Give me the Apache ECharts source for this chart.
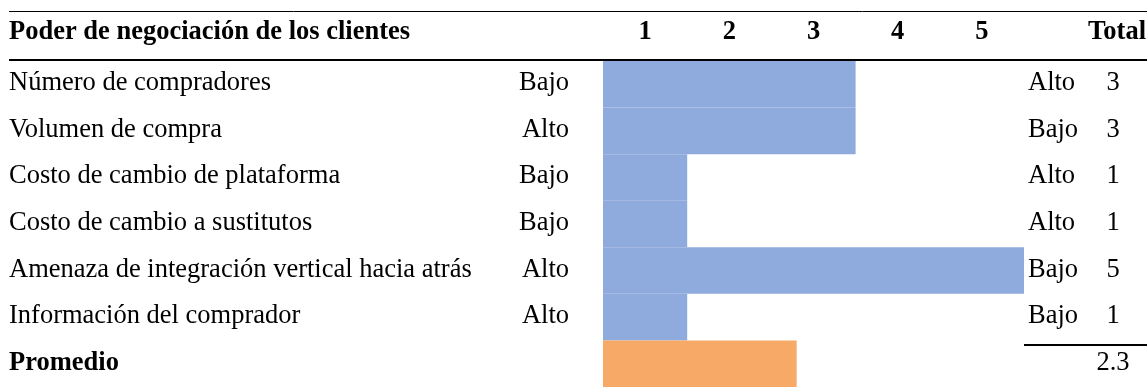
<!DOCTYPE html>
<html>
<head>
<meta charset="utf-8">
<title>Poder de negociación de los clientes</title>
<script src="https://cdn.jsdelivr.net/npm/echarts@6/dist/echarts.min.js"></script>
<style>
  html, body { margin: 0; padding: 0; background: #fff; }
  #chart { width: 1147px; height: 387px; }
</style>
</head>
<body>
<div id="chart"></div>
<script>
// Factors rated on a 1–5 scale
const factors = [
  'Número de compradores',
  'Volumen de compra',
  'Costo de cambio de plataforma',
  'Costo de cambio a sustitutos',
  'Amenaza de integración vertical hacia atrás',
  'Información del comprador'
];
const lowEnd = ['Bajo', 'Alto', 'Bajo', 'Bajo', 'Alto', 'Alto'];
const highEnd = ['Alto', 'Bajo', 'Alto', 'Alto', 'Bajo', 'Bajo'];
const scores = [3, 3, 1, 1, 5, 1];
const averageLabel = 'Promedio';
const average = 2.3;
const scaleTicks = ['1', '2', '3', '4', '5'];
const title = 'Poder de negociación de los clientes';
const totalHeader = 'Total';

const FONT = '"Liberation Serif", "Times New Roman", serif';
const FS = 26.5;
const BLUE = '#8FAADC';
const ORANGE = '#F7A967';

const rows = factors.concat([averageLabel]);
const values = scores.concat([average]);
const totals = scores.map(String).concat([String(average)]);

const GRID_LEFT = 603;
const GRID_RIGHT_X = 1024;
const GRID_TOP = 61;
const ROW_H = 47.33;

const chart = echarts.init(document.getElementById('chart'), null, { renderer: 'canvas' });

// Shared text style for every row label column
const rowText = { fontFamily: FONT, fontSize: FS, color: '#000' };

function rowLabel(align, margin) {
  return {
    align: align,
    margin: margin,
    color: '#000',
    fontFamily: FONT,
    fontSize: FS,
    padding: [0, 0, 2, 0],
    formatter: function (v) {
      if (v === '') return '';
      return v === averageLabel ? '{b|' + v + '}' : '{t|' + v + '}';
    },
    rich: {
      t: rowText,
      b: Object.assign({ fontWeight: 'bold' }, rowText)
    }
  };
}

const baseCatAxis = {
  type: 'category',
  inverse: true,
  axisLine: { show: false },
  axisTick: { show: false },
  splitLine: { show: false }
};

chart.setOption({
  animation: false,
  backgroundColor: '#fff',
  grid: {
    left: GRID_LEFT,
    top: GRID_TOP,
    width: GRID_RIGHT_X - GRID_LEFT,
    height: ROW_H * rows.length,
    containLabel: false
  },
  xAxis: [
    { type: 'value', min: 0, max: 5, show: false },
    {
      type: 'category',
      position: 'top',
      data: scaleTicks,
      axisLine: { show: false },
      axisTick: { show: false },
      splitLine: { show: false },
      axisLabel: { fontFamily: FONT, fontSize: FS, fontWeight: 'bold', color: '#000', margin: 15 }
    }
  ],
  yAxis: [
    Object.assign({}, baseCatAxis, {
      position: 'left',
      data: rows,
      axisLabel: rowLabel('left', GRID_LEFT - 9)
    }),
    Object.assign({}, baseCatAxis, {
      position: 'left',
      data: lowEnd.concat(['']),
      axisLabel: rowLabel('right', GRID_LEFT - 569)
    }),
    Object.assign({}, baseCatAxis, {
      position: 'right',
      data: highEnd.concat(['']),
      axisLabel: rowLabel('left', 1028 - GRID_RIGHT_X)
    }),
    Object.assign({}, baseCatAxis, {
      position: 'right',
      data: totals,
      axisLabel: rowLabel('center', 1113 - GRID_RIGHT_X)
    })
  ],
  series: [
    {
      type: 'bar',
      xAxisIndex: 0,
      yAxisIndex: 0,
      barCategoryGap: 0,
      barWidth: '100%',
      data: values.map(function (v, i) {
        return { value: v, itemStyle: { color: i === values.length - 1 ? ORANGE : BLUE } };
      }),
      silent: true
    }
  ],
  graphic: [
    { type: 'line', shape: { x1: 9, y1: 11.5, x2: 1147, y2: 11.5 }, style: { stroke: '#000', lineWidth: 1 } },
    { type: 'line', shape: { x1: 9, y1: 60, x2: 1147, y2: 60 }, style: { stroke: '#000', lineWidth: 2 } },
    { type: 'line', shape: { x1: GRID_RIGHT_X, y1: 345, x2: 1147, y2: 345 }, style: { stroke: '#000', lineWidth: 2 } },
    {
      type: 'text', left: 9, top: 19,
      style: { text: title, font: 'bold ' + FS + 'px ' + FONT, fill: '#000' }
    },
    {
      type: 'text', right: 1, top: 19,
      style: { text: totalHeader, font: 'bold ' + FS + 'px ' + FONT, fill: '#000' }
    }
  ]
});
</script>
</body>
</html>
